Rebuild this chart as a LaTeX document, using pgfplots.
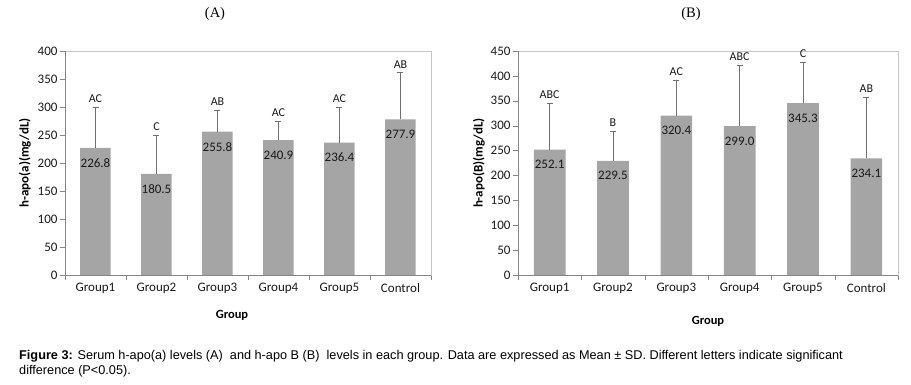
\documentclass[border=0pt]{standalone}
\usepackage{fontspec}
\setmainfont{Carlito}
\newfontfamily\capfont{Liberation Sans}
\newfontfamily\titfont{Liberation Serif}
\usepackage{pgfplots}
\pgfplotsset{compat=1.18}
\usepackage{pgfplotstable}

\definecolor{barc}{HTML}{A5A5A5}
\definecolor{errc}{HTML}{707070}
\definecolor{axc}{HTML}{868686}
\definecolor{brd}{HTML}{C4C4C4}

\pgfplotstableread{
x y err top let
0 226.8 73.2 300.0 AC
1 180.5 69.5 250.0 C
2 255.8 38.3 294.1 AB
3 240.9 33.5 274.4 AC
4 236.4 63.6 300.0 AC
5 277.9 83.4 361.3 AB
}\dataA

\pgfplotstableread{
x y err top let
0 252.1 92.3 344.4 ABC
1 229.5 58.8 288.3 B
2 320.4 71.5 391.9 AC
3 299.0 122.3 421.3 ABC
4 345.3 82.0 427.3 C
5 234.1 123.6 357.7 AB
}\dataB

\pgfplotsset{excel/.style={
  scale only axis, height=224pt,
  xmin=-0.5, xmax=5.5, ymin=0,
  axis line style={draw=brd},
  xtick={0,...,5},
  xticklabels={Group1,Group2,Group3,Group4,Group5,Control},
  major x tick style={draw=none},
  minor xtick={-0.5,0.5,...,5.5},
  minor tick length=5pt, major tick length=5pt,
  tick align=outside, xtick pos=bottom, ytick pos=left,
  tick style={draw=axc},
  ticklabel style={font=\fontsize{13}{15}\selectfont, text=black!90},
  yticklabel style={xshift=1pt},
  /pgf/number format/assume math mode=true,
  every axis y label/.style={at={(axis description cs:0,0.5)}, rotate=90, anchor=center, font=\bfseries\fontsize{13}{15}\selectfont},
  every axis x label/.style={at={(axis description cs:0.5,0)}, anchor=center, font=\bfseries\fontsize{12.5}{15}\selectfont},
  after end axis/.code={
    \draw[axc] (rel axis cs:0,1) -- (rel axis cs:0,0) -- (rel axis cs:1,0);
  },
}}

\begin{document}
\begin{tikzpicture}
% Panel A
\begin{axis}[excel, at={(65pt,110pt)}, anchor=south west, width=366pt,
  ymax=400, ytick distance=50,
  ylabel={h-apo(a)(mg/dL)}, xlabel={Group},
  ylabel style={yshift=40pt},
  xlabel style={xshift=-16pt, yshift=-40pt}]
\addplot[ybar, bar width=0.5, fill=barc, draw=none,
  error bars/.cd, y dir=plus, y explicit,
  error bar style={draw=errc, line width=0.8pt},
  error mark options={draw=errc, mark size=3pt, line width=0.8pt, rotate=90}]
  table[x=x, y=y, y error=err] {\dataA};
\addplot[ybar, bar width=0.5, fill=none, draw=none,
  nodes near coords={\pgfmathprintnumber[fixed,precision=1,fixed zerofill]{\pgfplotspointmeta}},
  every node near coord/.append style={anchor=north, yshift=-7pt, font=\fontsize{13}{15}\selectfont, text=black!90}]
  table[x=x, y=y] {\dataA};
\addplot[draw=none, mark=none, nodes near coords, point meta=explicit symbolic,
  every node near coord/.append style={anchor=south, yshift=1pt, font=\fontsize{12}{14}\selectfont, text=black!90}]
  table[x=x, y=top, meta=let] {\dataA};
\end{axis}
% Panel B
\begin{axis}[excel, at={(518pt,110pt)}, anchor=south west, width=380pt,
  ymax=450, ytick distance=50,
  ylabel={h-apo(B)(mg/dL)}, xlabel={Group},
  ylabel style={yshift=39pt},
  xlabel style={yshift=-46pt}]
\addplot[ybar, bar width=0.5, fill=barc, draw=none,
  error bars/.cd, y dir=plus, y explicit,
  error bar style={draw=errc, line width=0.8pt},
  error mark options={draw=errc, mark size=3pt, line width=0.8pt, rotate=90}]
  table[x=x, y=y, y error=err] {\dataB};
\addplot[ybar, bar width=0.5, fill=none, draw=none,
  nodes near coords={\pgfmathprintnumber[fixed,precision=1,fixed zerofill]{\pgfplotspointmeta}},
  every node near coord/.append style={anchor=north, yshift=-7pt, font=\fontsize{13}{15}\selectfont, text=black!90}]
  table[x=x, y=y] {\dataB};
\addplot[draw=none, mark=none, nodes near coords, point meta=explicit symbolic,
  every node near coord/.append style={anchor=south, yshift=1pt, font=\fontsize{12}{14}\selectfont, text=black!90}]
  table[x=x, y=top, meta=let] {\dataB};
\end{axis}
% titles
\node[font=\titfont\fontsize{14.5}{16}\selectfont] at (215pt,371pt) {(A)};
\node[font=\titfont\fontsize{14.5}{16}\selectfont] at (691pt,371pt) {(B)};
% caption
\node[anchor=base west, inner sep=0pt, font=\capfont\fontsize{12.7}{15}\selectfont] at (19pt,25pt)
  {\textbf{Figure 3:} Serum h-apo(a) levels (A)\ \ and h-apo B (B)\ \ levels in each group. Data are expressed as Mean ± SD. Different letters indicate significant};
\node[anchor=base west, inner sep=0pt, font=\capfont\fontsize{12.7}{15}\selectfont] at (19pt,10pt)
  {difference (P<0.05).};
\pgfresetboundingbox
\path[use as bounding box] (0,0) rectangle (911pt,385pt);
\end{tikzpicture}
\end{document}
